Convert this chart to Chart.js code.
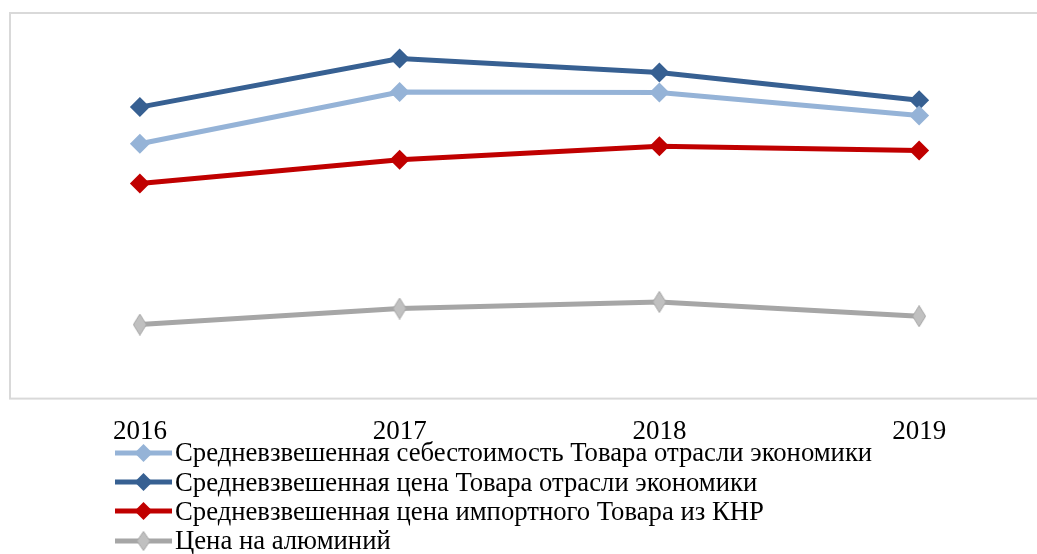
<!DOCTYPE html>
<html>
<head>
<meta charset="utf-8">
<script src="https://cdn.jsdelivr.net/npm/chart.js@4/dist/chart.umd.min.js"></script>
<style>
  html, body { margin: 0; padding: 0; background: #fff; overflow: hidden; width: 1037px; height: 554px; }
  #wrap { position: absolute; left: 0; top: 0; width: 1060px; height: 465px; }
  #legend { position: absolute; left: 115px; top: 438px; font-family: 'Liberation Serif', 'Times New Roman', serif; font-size: 26.7px; color: #000; }
  .row { display: flex; align-items: center; height: 29.4px; white-space: nowrap; }
  .row canvas { margin-right: 3px; }
</style>
</head>
<body>
<div id="wrap"><canvas id="c" width="1060" height="465"></canvas></div>
<div id="legend"></div>
<script>
const categories = ['2016', '2017', '2018', '2019'];
const seriesNames = [
  'Средневзвешенная себестоимость Товара отрасли экономики',
  'Средневзвешенная цена Товара отрасли экономики',
  'Средневзвешенная цена импортного Товара из КНР',
  'Цена на алюминий'
];
const costDomestic = [165.2, 198.8, 198.4, 183.6];
const priceDomestic = [189.0, 220.5, 211.4, 193.4];
const priceImportChina = [139.5, 154.9, 163.6, 160.8];
const priceAluminium = [48.0, 58.4, 62.7, 53.4];
const seriesValues = [costDomestic, priceDomestic, priceImportChina, priceAluminium];
const lineColors = ['#95b3d7', '#376092', '#c00000', '#a6a6a6'];
const markerFill = ['#95b3d7', '#376092', '#c00000', '#c0c0c0'];

function diamondImg(w, h, fill, stroke) {
  const cv = document.createElement('canvas');
  cv.width = w; cv.height = h;
  const g = cv.getContext('2d');
  g.beginPath();
  g.moveTo(w / 2, 0.5); g.lineTo(w - 0.5, h / 2); g.lineTo(w / 2, h - 0.5); g.lineTo(0.5, h / 2); g.closePath();
  g.fillStyle = fill; g.fill();
  if (stroke) { g.strokeStyle = stroke; g.lineWidth = 1; g.stroke(); }
  return cv;
}
const greyDiamond = diamondImg(14, 22, '#c0c0c0', '#a6a6a6');

const datasets = seriesValues.map((vals, i) => ({
  label: seriesNames[i],
  data: vals,
  borderColor: lineColors[i],
  backgroundColor: markerFill[i],
  borderWidth: 5,
  pointStyle: i === 3 ? greyDiamond : 'rectRot',
  pointRadius: 10,
  pointBorderWidth: 0,
  pointBackgroundColor: markerFill[i],
  tension: 0
}));

const boxPlugin = {
  id: 'box',
  afterDraw(chart) {
    const a = chart.chartArea, ctx = chart.ctx;
    ctx.save();
    ctx.strokeStyle = '#d9d9d9';
    ctx.lineWidth = 2;
    ctx.strokeRect(a.left, a.top, a.right - a.left, a.bottom - a.top);
    ctx.restore();
  }
};

new Chart(document.getElementById('c'), {
  type: 'line',
  data: { labels: categories, datasets },
  options: {
    responsive: false,
    animation: false,
    layout: { padding: { left: 9, top: 13, right: 11, bottom: 0 } },
    plugins: { legend: { display: false }, tooltip: { enabled: false } },
    scales: {
      x: {
        offset: true,
        grid: { display: false, drawTicks: false },
        border: { display: false },
        ticks: { color: '#000', padding: 17, font: { family: "'Liberation Serif', 'Times New Roman', serif", size: 27 } }
      },
      y: { display: false, min: 0, max: 250 }
    }
  },
  plugins: [boxPlugin]
});

const leg = document.getElementById('legend');
seriesNames.forEach((name, i) => {
  const row = document.createElement('div');
  row.className = 'row';
  const cv = document.createElement('canvas');
  cv.width = 57; cv.height = 22;
  const g = cv.getContext('2d');
  g.strokeStyle = lineColors[i]; g.lineWidth = 5;
  g.beginPath(); g.moveTo(0, 11); g.lineTo(57, 11); g.stroke();
  if (i === 3) {
    g.drawImage(diamondImg(14, 20, '#c0c0c0', '#a6a6a6'), 21.5, 1);
  } else {
    g.fillStyle = markerFill[i];
    g.beginPath(); g.moveTo(28.5, 2); g.lineTo(37.5, 11); g.lineTo(28.5, 20); g.lineTo(19.5, 11); g.closePath(); g.fill();
  }
  row.appendChild(cv);
  const sp = document.createElement('span');
  sp.textContent = name;
  row.appendChild(sp);
  leg.appendChild(row);
});
</script>
</body>
</html>
